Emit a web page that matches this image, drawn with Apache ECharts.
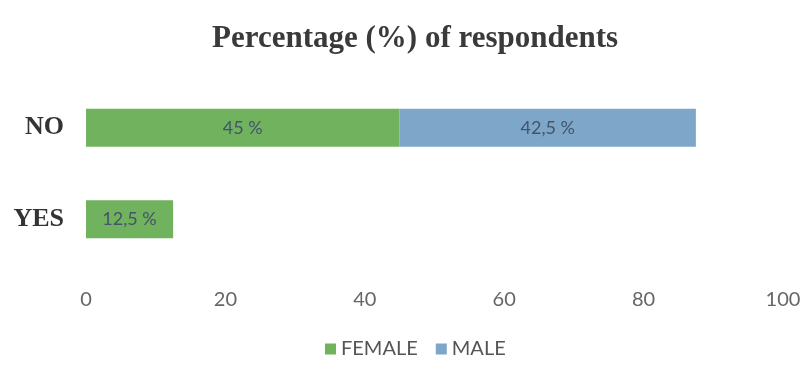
<!DOCTYPE html>
<html>
<head>
<meta charset="utf-8">
<script src="https://cdn.jsdelivr.net/npm/echarts@6/dist/echarts.min.js"></script>
<style>
  html, body { margin: 0; padding: 0; background: #fff; }
  #main { width: 804px; height: 365px; }
</style>
</head>
<body>
<div id="main"></div>
<script>
// answers, bottom to top
var categories = ['YES', 'NO'];
var female = [12.5, 45];
var male = [null, 42.5];
var ticks = [0, 20, 40, 60, 80, 100];

function pct(p) {
  // decimal comma as in the source
  return String(p.value).replace('.', ',') + ' %';
}

var myChart = echarts.init(document.getElementById('main'));
myChart.setOption({
  title: {
    text: 'Percentage (%) of respondents',
    left: 207,
    top: 18,
    textStyle: {
      fontFamily: 'Liberation Serif',
      fontSize: 31,
      fontWeight: 'bold',
      color: '#3a3a3a'
    }
  },
  legend: {
    bottom: 1,
    left: 320,
    itemWidth: 11,
    itemHeight: 11,
    itemGap: 18,
    icon: 'rect',
    textStyle: { fontFamily: 'Lato', fontSize: 20, color: '#555' },
    data: ['FEMALE', 'MALE']
  },
  grid: { left: 86, right: 21, top: 82, bottom: 100 },
  xAxis: {
    type: 'value',
    min: ticks[0],
    max: ticks[ticks.length - 1],
    interval: 20,
    splitLine: { show: false },
    axisLine: { show: false },
    axisTick: { show: false },
    axisLabel: { margin: 25, fontFamily: 'Lato', fontSize: 20, color: '#666' }
  },
  yAxis: {
    type: 'category',
    data: categories,
    axisLine: { show: false },
    axisTick: { show: false },
    axisLabel: {
      margin: 22,
      fontFamily: 'Liberation Serif',
      fontSize: 26,
      fontWeight: 'bold',
      color: '#333'
    }
  },
  series: [{
    name: 'FEMALE',
    type: 'bar',
    stack: 'all',
    barWidth: 38,
    itemStyle: { color: '#70b25e' },
    label: { show: true, position: 'inside', formatter: pct, fontFamily: 'Lato', fontSize: 18, color: '#44546a' },
    data: female
  }, {
    name: 'MALE',
    type: 'bar',
    stack: 'all',
    barWidth: 38,
    itemStyle: { color: '#7ea6c9' },
    label: { show: true, position: 'inside', formatter: pct, fontFamily: 'Lato', fontSize: 18, color: '#44546a' },
    data: male
  }]
});
</script>
</body>
</html>
